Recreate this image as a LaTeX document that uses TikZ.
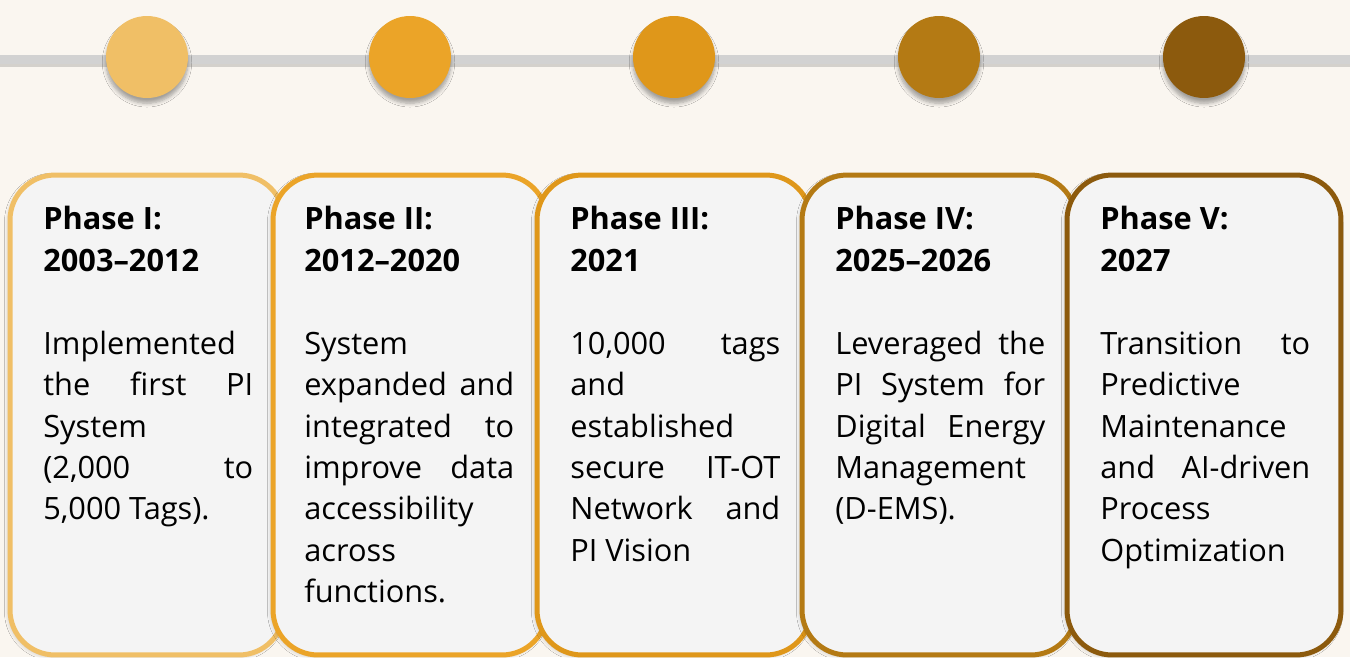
\documentclass[tikz,border=0pt]{standalone}
\usepackage{fontspec}
\setmainfont{Open Sans}
\usetikzlibrary{shadows.blur}

\definecolor{bgcream}{HTML}{FAF6F0}
\definecolor{bargray}{HTML}{D2D2D2}
\definecolor{cardfill}{HTML}{F4F4F4}
\definecolor{phaseA}{HTML}{F0BF66}
\definecolor{phaseB}{HTML}{EBA428}
\definecolor{phaseC}{HTML}{DF971A}
\definecolor{phaseD}{HTML}{B47A14}
\definecolor{phaseE}{HTML}{8C5A0D}

\tikzset{
  phasecard/.style={rectangle, rounded corners=0.9cm, line width=0.1cm,
    fill=cardfill, minimum width=5.48cm, minimum height=9.6cm,
    blur shadow={shadow xshift=-1pt, shadow yshift=-1pt, shadow opacity=20, shadow blur steps=5}},
  phasedot/.style={circle, minimum size=1.64cm, inner sep=0pt,
    blur shadow={shadow xshift=0pt, shadow yshift=-3pt, shadow opacity=35, shadow blur steps=6}},
  phasetext/.style={anchor=north west, inner sep=0pt, text width=4.2cm, align=justify,
    font=\fontsize{17.5}{23.6}\selectfont}
}

\begin{document}
\begin{tikzpicture}[x=0.02cm, y=-0.02cm]
  \fill[bgcream] (0,0) rectangle (1350,657);
  \useasboundingbox (0,0) rectangle (1350,657);

  % timeline bar
  \draw[black, opacity=0.15, line width=0.18cm] (0,62) -- (1350,62);
  \draw[bargray, line width=0.18cm] (0,59.5) -- (1350,59.5);

  % cards and dots, one per phase
  \foreach \i/\x/\c in {1/147/phaseA, 2/410/phaseB, 3/674/phaseC, 4/939/phaseD, 5/1204/phaseE} {
    \node[phasedot, fill=\c] (dot\i) at (\x,57) {};
    \node[phasecard, draw=\c] (card\i) at (\x,415) {};
  }

  \node[phasetext] (text1) at (43,206) {\textbf{Phase I:}\\ \textbf{2003–2012}\\[23.6pt]
    Implemented\linebreak the first PI\linebreak System\linebreak (2,000 to\linebreak 5,000 Tags).};
  \node[phasetext] (text2) at (304,206) {\textbf{Phase II:}\\ \textbf{2012–2020}\\[23.6pt]
    System\linebreak expanded and\linebreak integrated to\linebreak improve data\linebreak accessibility\linebreak across\linebreak functions.};
  \node[phasetext] (text3) at (570,206) {\textbf{Phase III:}\\ \textbf{2021}\\[23.6pt]
    10,000 tags\linebreak and\linebreak established\linebreak secure IT-OT\linebreak Network and\linebreak PI Vision};
  \node[phasetext] (text4) at (835,206) {\textbf{Phase IV:}\\ \textbf{2025–2026}\\[23.6pt]
    Leveraged the\linebreak PI System for\linebreak Digital Energy\linebreak Management\linebreak (D-EMS).};
  \node[phasetext] (text5) at (1100,206) {\textbf{Phase V:}\\ \textbf{2027}\\[23.6pt]
    Transition to\linebreak Predictive\linebreak Maintenance\linebreak and AI-driven\linebreak Process\linebreak Optimization};
\end{tikzpicture}
\end{document}
